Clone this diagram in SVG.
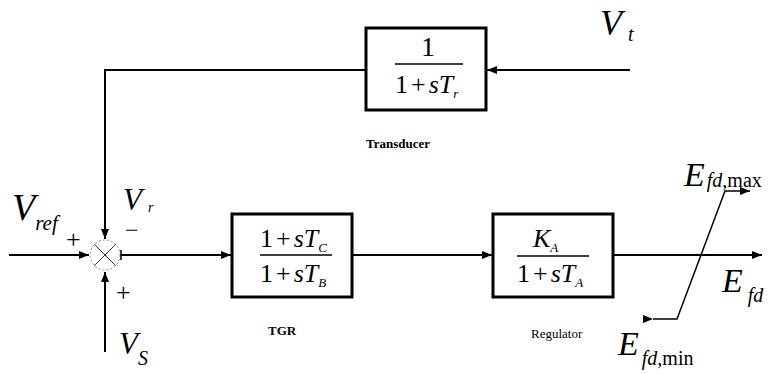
<svg xmlns="http://www.w3.org/2000/svg" width="770" height="374" viewBox="0 0 770 374">
<defs>
<marker id="ah" viewBox="0 0 10 8" refX="10" refY="4" markerWidth="10" markerHeight="8" markerUnits="userSpaceOnUse" orient="auto">
<path d="M0,0 L10,4 L0,8 Z" fill="#000"/>
</marker>
</defs>
<style>
.blk{fill:#fff;stroke:#000;stroke-width:3}
.ln{fill:none;stroke:#000;stroke-width:2}
.fl{stroke:#000;stroke-width:1.5}
.i{font-style:italic}
text{font-family:Liberation Serif, Times New Roman, serif}
</style>
<rect width="770" height="374" fill="#fff"/>
<g id="connectors">
<polyline class="ln" points="630,70 487,70" marker-end="url(#ah)"/>
<polyline class="ln" points="366,70 105,70 105,239" marker-end="url(#ah)"/>
<line class="ln" x1="9" y1="255" x2="89" y2="255" marker-end="url(#ah)"/>
<line class="ln" x1="105" y1="352" x2="105" y2="272" marker-end="url(#ah)"/>
<line class="ln" x1="121" y1="255" x2="231" y2="255" marker-end="url(#ah)"/>
<line class="ln" x1="353" y1="255" x2="492" y2="255" marker-end="url(#ah)"/>
<line class="ln" x1="614" y1="255" x2="762" y2="255" marker-end="url(#ah)"/>
<polyline fill="none" stroke="#000" stroke-width="1.5" points="653,319 677,319 725,191 750,191" marker-start="url(#ah)" marker-end="url(#ah)"/>
</g>
<g font-family="Liberation Serif, serif" fill="#000">
<g id="junction">
<circle cx="105" cy="255" r="15" fill="#fff" stroke="#888" stroke-width="1" stroke-dasharray="2,2"/>
<line x1="94.4" y1="244.4" x2="115.6" y2="265.6" stroke="#333" stroke-width="1"/>
<line x1="115.6" y1="244.4" x2="94.4" y2="265.6" stroke="#333" stroke-width="1"/>
<line x1="121" y1="250" x2="121" y2="260" stroke="#000" stroke-width="1.5"/>
<text class="i" x="12" y="220" font-size="38">V<tspan font-size="21" dy="10">ref</tspan></text>
<text x="66" y="248" font-size="26">+</text>
<text class="i" x="123" y="210" font-size="31">V<tspan font-size="14" dx="6" dy="2">r</tspan></text>
<text x="125" y="238" font-size="24">−</text>
<text x="116" y="301" font-size="26">+</text>
<text class="i" x="119" y="354" font-size="31">V<tspan font-size="20" dy="11">S</tspan></text>
</g>
<g id="transducer">
<rect class="blk" x="366" y="28" width="120" height="82"/>
<text x="428" y="56" font-size="28" text-anchor="middle">1</text>
<line class="fl" x1="395" y1="64" x2="463" y2="64"/>
<text x="395" y="93" font-size="26">1<tspan dx="3">+</tspan><tspan class="i" dx="3">sT</tspan><tspan class="i" font-size="13" dy="5">r</tspan></text>
<text x="366" y="148" font-size="13" font-weight="bold">Transducer</text>
</g>
<g id="vt">
<text class="i" x="600" y="35" font-size="36">V<tspan font-size="20" dx="6" dy="6">t</tspan></text>
</g>
<g id="tgr">
<rect class="blk" x="232" y="214" width="120" height="83"/>
<text x="260" y="247" font-size="26">1<tspan dx="3">+</tspan><tspan class="i" dx="3">sT</tspan><tspan class="i" font-size="13" dy="5">C</tspan></text>
<line class="fl" x1="260" y1="255" x2="332" y2="255"/>
<text x="260" y="282" font-size="26">1<tspan dx="3">+</tspan><tspan class="i" dx="3">sT</tspan><tspan class="i" font-size="13" dy="5">B</tspan></text>
<text x="268" y="335" font-size="13" font-weight="bold">TGR</text>
</g>
<g id="regulator">
<rect class="blk" x="493" y="214" width="120" height="83"/>
<text class="i" x="533" y="247" font-size="26">K<tspan font-size="13" dy="5">A</tspan></text>
<line class="fl" x1="517" y1="256" x2="589" y2="256"/>
<text x="517" y="282" font-size="26">1<tspan dx="3">+</tspan><tspan class="i" dx="3">sT</tspan><tspan class="i" font-size="13" dy="5">A</tspan></text>
<text x="531" y="338" font-size="13">Regulator</text>
</g>
<g id="limiter">
<text class="i" x="684" y="186" font-size="34">E<tspan font-size="20" dx="2" dy="1">fd</tspan><tspan font-style="normal" font-size="20">,max</tspan></text>
<text class="i" x="722" y="292" font-size="34">E<tspan font-size="20" dx="5" dy="10">fd</tspan></text>
<text class="i" x="618" y="355" font-size="34">E<tspan font-size="20" dx="3" dy="10">fd</tspan><tspan font-style="normal" font-size="20">,min</tspan></text>
</g>
</g>
</svg>
